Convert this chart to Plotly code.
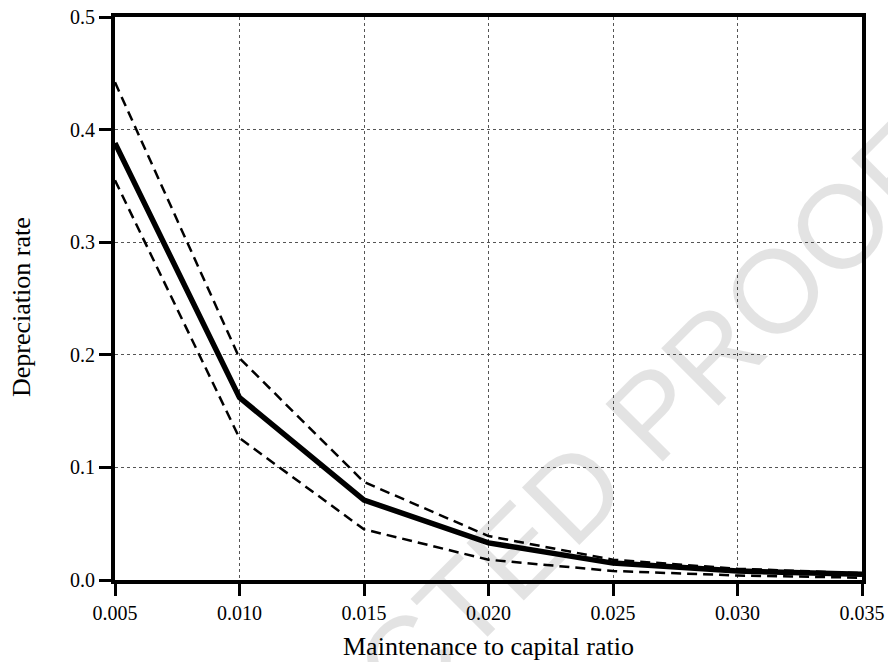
import plotly.graph_objects as go

# Data
ratio = [0.005, 0.010, 0.015, 0.020, 0.025, 0.030, 0.035]
dep_mean = [0.388, 0.162, 0.071, 0.033, 0.015, 0.008, 0.005]
dep_upper = [0.442, 0.197, 0.087, 0.039, 0.018, 0.010, 0.006]
dep_lower = [0.355, 0.126, 0.045, 0.018, 0.008, 0.004, 0.002]

x_ticks = [0.005, 0.010, 0.015, 0.020, 0.025, 0.030, 0.035]
x_ticklabels = ["0.005", "0.010", "0.015", "0.020", "0.025", "0.030", "0.035"]
y_ticks = [0.0, 0.1, 0.2, 0.3, 0.4, 0.5]
y_ticklabels = ["0.0", "0.1", "0.2", "0.3", "0.4", "0.5"]

x_title = "Maintenance to capital ratio"
y_title = "Depreciation rate"
watermark = "UNCORRECTED PROOF"

SERIF = "Liberation Serif"

fig = go.Figure()
for ys in (dep_upper, dep_lower):
    fig.add_trace(go.Scatter(x=ratio, y=ys, mode="lines",
                             line=dict(color="black", width=2.5, dash="10px,6px"),
                             showlegend=False, hoverinfo="skip"))
fig.add_trace(go.Scatter(x=ratio, y=dep_mean, mode="lines",
                         line=dict(color="black", width=5.5),
                         showlegend=False, hoverinfo="skip"))

axis_common = dict(
    showline=True, linecolor="black", linewidth=4, mirror=True,
    ticks="outside", ticklen=12, tickwidth=3, tickcolor="black",
    showgrid=True, gridcolor="#555", gridwidth=1, griddash="dot",
    zeroline=False,
    tickfont=dict(family=SERIF, size=20, color="black"),
)

fig.update_xaxes(range=[0.005, 0.035], tickmode="array", tickvals=x_ticks,
                 ticktext=x_ticklabels, **axis_common)
fig.update_yaxes(range=[0.0, 0.5], tickmode="array", tickvals=y_ticks,
                 ticktext=y_ticklabels, **axis_common)

fig.update_layout(
    width=888, height=662,
    margin=dict(l=115, r=26, t=17, b=82, autoexpand=False),
    paper_bgcolor="white", plot_bgcolor="white",
    font=dict(family=SERIF, color="black", size=20),
    annotations=[
        dict(text=x_title, xref="paper", yref="paper", x=0.5, y=-0.119,
             xanchor="center", yanchor="middle", showarrow=False,
             font=dict(family=SERIF, size=26, color="black")),
        dict(text=y_title, xref="paper", yref="paper", x=-0.1245, y=0.485,
             xanchor="center", yanchor="middle", showarrow=False, textangle=-90,
             font=dict(family=SERIF, size=26, color="black")),
        dict(text=watermark, xref="paper", yref="paper", x=0.434, y=-0.083,
             xanchor="center", yanchor="middle", showarrow=False, textangle=-45,
             font=dict(family="Liberation Sans", size=118,
                       color="rgba(0,0,0,0.11)")),
    ],
)

fig.write_html("out.html",
               config={"displayModeBar": False},
               post_script="document.body.style.margin='0px';document.body.style.overflow='hidden';")
